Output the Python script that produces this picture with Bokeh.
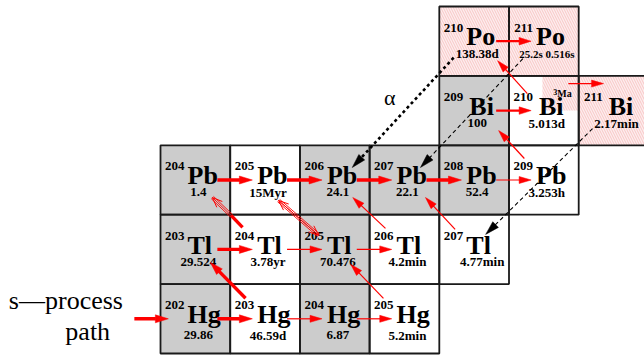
import math
from bokeh.plotting import figure
from bokeh.models import Range1d
from bokeh.core.properties import value
from bokeh.embed import file_html
from bokeh.resources import INLINE

# ---------------- data ----------------
symbols = {80: "Hg", 81: "Tl", 82: "Pb", 83: "Bi", 84: "Po"}
Z_vals = [80, 80, 80, 80, 81, 81, 81, 81, 81, 82, 82, 82, 82, 82, 82, 83, 83, 83, 84, 84]
A_vals = [202, 203, 204, 205, 203, 204, 205, 206, 207, 204, 205, 206, 207, 208, 209, 209, 210, 211, 210, 211]
labels = ["29.86", "46.59d", "6.87", "5.2min",
          "29.524", "3.78yr", "70.476", "4.2min", "4.77min",
          "1.4", "15Myr", "24.1", "22.1", "52.4", "3.253h",
          "100", "5.013d", "2.17min",
          "138.38d", "25.2s 0.516s"]
kinds = ["stable", "unstable", "stable", "unstable",
         "stable", "unstable", "stable", "unstable", "unstable",
         "stable", "unstable", "stable", "stable", "stable", "unstable",
         "stable", "unstable", "alpha",
         "alpha", "alpha"]
isomer_Z, isomer_A, isomer_label = 83, 210, ("3", "Ma")

# neutron captures (Z, A, strength)
captures = [(80, 202, "thick"), (80, 203, "thin"), (80, 204, "thin"),
            (81, 203, "thick"), (81, 204, "thin"), (81, 205, "thin"),
            (82, 204, "thick"), (82, 205, "thick"), (82, 206, "thick"),
            (82, 207, "thick"), (82, 208, "thin"),
            (83, 209, "medium"), (84, 210, "medium")]
# beta decays (parent Z, A) -> (Z+1, A)
betas = [(80, 203, "thick"), (81, 204, "split"), (80, 205, "thin"), (81, 206, "thin"),
         (81, 207, "thin"), (82, 209, "thin"), (83, 210, "thin")]
# alpha decays (parent Z, A) -> (Z-2, A-4)
alphas = [(84, 210, "strong"), (84, 211, "weak"), (83, 211, "weak")]

# ---------------- layout ----------------
W, H = 644, 356
X0, X1 = 119.2044, 128.444
Y0, Y1 = 79.4568, 84.5865
KX = W / (X1 - X0)
KY = H / (Y1 - Y0)
RED = "#ff0000"
FONT = value("Liberation Serif")
BASE = 0.37  # baseline correction in em

p = figure(width=W, height=H, x_range=Range1d(X0, X1), y_range=Range1d(Y0, Y1),
           output_backend="svg", toolbar_location=None, min_border=0)
p.axis.visible = False
p.grid.visible = False
p.outline_line_color = None
p.background_fill_color = "white"


def pos(Z, A, dx=0.0, dy=0.0):
    N = A - Z
    return N + dx / KX, Z - dy / KY


def txt(xs, ys, texts, fs, bold=True, align="left"):
    p.text(x=xs, y=[y + BASE * fs / KY for y in ys], text=texts, text_font=FONT,
           text_font_style="bold" if bold else "normal", text_font_size=f"{fs}px",
           text_align=align, text_baseline="alphabetic", text_color="black")


Ns = [a - z for a, z in zip(A_vals, Z_vals)]

# cell fills
for kind, fill in (("stable", "#cccccc"), ("unstable", "white")):
    idx = [i for i, k in enumerate(kinds) if k == kind]
    p.quad(left=[Ns[i] - 0.5 for i in idx], right=[Ns[i] + 0.5 for i in idx],
           bottom=[Z_vals[i] - 0.5 for i in idx], top=[Z_vals[i] + 0.5 for i in idx],
           fill_color=fill, line_color=None)
idx = [i for i, k in enumerate(kinds) if k == "alpha"]
hatch = dict(fill_color="#fdeeee", line_color=None, hatch_pattern="\\",
             hatch_color="#f07070", hatch_alpha=0.45, hatch_scale=5, hatch_weight=0.7)
p.quad(left=[Ns[i] - 0.5 for i in idx], right=[Ns[i] + 0.5 for i in idx],
       bottom=[Z_vals[i] - 0.5 for i in idx], top=[Z_vals[i] + 0.5 for i in idx], **hatch)
iN = isomer_A - isomer_Z
p.quad(left=[iN - 0.02], right=[iN + 0.5], bottom=[isomer_Z], top=[isomer_Z + 0.5], **hatch)

# cell borders
p.quad(left=[n - 0.5 for n in Ns], right=[n + 0.5 for n in Ns],
       bottom=[z - 0.5 for z in Z_vals], top=[z + 0.5 for z in Z_vals],
       fill_color=None, line_color="#1a1a1a", line_width=1.8)

# texts
txt([n - 0.5 + 24 / KX for n in Ns], [z + 0.5 - 26 / KY for z in Z_vals],
    [str(a) for a in A_vals], 13, align="right")
txt([n - 0.5 + (30 if z == 83 else 27) / KX for n, z in zip(Ns, Z_vals)],
    [z + 0.5 - 40 / KY for z in Z_vals], [symbols[z] for z in Z_vals], 26)
for small in (False, True):
    ii = [i for i in range(len(labels)) if (len(labels[i]) > 8) == small]
    txt([Ns[i] + (8 if labels[i] == "4.77min" else 3) / KX for i in ii],
        [Z_vals[i] + 0.5 - (56 if Z_vals[i] == 80 else 52) / KY for i in ii],
        [labels[i] for i in ii], 11 if small else 13, align="center")

# isomer label
x3, y3 = pos(isomer_Z, isomer_A, 9.5, -16)
txt([x3], [y3], [isomer_label[0]], 8)
xm, ym = pos(isomer_Z, isomer_A, 13.5, -13)
txt([xm], [ym], [isomer_label[1]], 10)

# s-process label and alpha label
xs, ys = pos(80, 202, -186.5, -8.5)
txt([xs], [ys], ["s\u2014process"], 26, bold=False)
xs, ys = pos(80, 202, -130, 22.5)
txt([xs], [ys], ["path"], 26, bold=False)
xa, ya = pos(84, 210, -84.5, 64.5)
txt([xa], [ya], ["\u03b1"], 22, bold=False, align="center")


# ---------------- arrows ----------------
def geom(a, b, L):
    ax, ay = a[0] * KX, a[1] * KY
    bx, by = b[0] * KX, b[1] * KY
    d = math.hypot(bx - ax, by - ay)
    ux, uy = (bx - ax) / d, (by - ay) / d
    return ax, ay, bx, by, ux, uy, bx - L * ux, by - L * uy


def arrow(a, b, color=RED, lw=1.3, L=12, Wd=7, dash="solid", head="filled", offset=0.0):
    ax, ay, bx, by, ux, uy, cx, cy = geom(a, b, L)
    nx, ny = -uy, ux
    ox, oy = offset * nx, offset * ny
    end_x, end_y = (cx + 0.5 * ux, cy + 0.5 * uy) if head == "filled" else (bx, by)
    p.segment(x0=[(ax + ox) / KX], y0=[(ay + oy) / KY], x1=[(end_x + ox) / KX],
              y1=[(end_y + oy) / KY], line_color=color, line_width=lw, line_dash=dash)
    if head == "filled":
        p.patch(x=[bx / KX, (cx + Wd / 2 * nx) / KX, (cx - Wd / 2 * nx) / KX],
                y=[by / KY, (cy + Wd / 2 * ny) / KY, (cy - Wd / 2 * ny) / KY],
                fill_color=color, line_color=color, line_width=0.5)
    elif head == "open":
        for s in (1, -1):
            p.segment(x0=[bx / KX], y0=[by / KY], x1=[(cx + s * Wd / 2 * nx) / KX],
                      y1=[(cy + s * Wd / 2 * ny) / KY], line_color=color, line_width=1.0)


def open_double(a, b, both=True):
    arrow(a, b, lw=0.9, head="none", offset=1.6)
    arrow(a, b, lw=0.9, head="none", offset=-1.6)
    arrow(a, b, lw=0.9, L=10, Wd=8, head="open")
    if both:
        arrow(b, a, lw=0.9, L=10, Wd=8, head="open")


styles = {"thick": dict(lw=3.4, L=13, Wd=8), "medium": dict(lw=2.2, L=12, Wd=7.5),
          "thin": dict(lw=1.2, L=12, Wd=7)}

# entry arrow
arrow(pos(80, 202, -61, 0), pos(80, 202, -27, 0), **styles["thick"])
for z, a, s in captures:
    arrow(pos(z, a, 22, 0), pos(z, a + 1, 57 - 69.7, 0), **styles[s])
# isomer capture
arrow(pos(isomer_Z, isomer_A, 24.5, -27), pos(isomer_Z, isomer_A + 1, -10, -27), **styles["thin"])

beta_offsets = {(80, 203): ((-19.5, -20.5), (15, 13)),
                (81, 204): ((-22.5, -22), (17, 17.5)),
                (80, 205): ((-21, -20.5), (16, 15)),
                (81, 206): ((-19, -21), (18, 17.5)),
                (81, 207): ((-19, -20), (21, 17.5)),
                (82, 209): ((-19.5, -21.5), (24.5, 20)),
                (83, 210): ((-16.5, -17), (23.5, 19.5))}
for z, a, s in betas:
    so, eo = beta_offsets[(z, a)]
    start = pos(z, a, *so)
    end = pos(z + 1, a, *eo)
    if s == "split":
        corner = pos(z, a, -34, -34)
        arrow(start, corner, lw=3.4, head="none")
        open_double(corner, end, both=False)
    else:
        arrow(start, end, **styles[s])

# 205Pb <-> 205Tl
open_double(pos(82, 205, 13.5, 20.5), pos(81, 205, -16, -14))

alpha_offsets = {(84, 210): ((-20.5, 16.5), (17.5, -12.5)),
                 (84, 211): ((-21, 17.5), (16, -12.5)),
                 (83, 211): ((-21, 18), (11.5, -15))}
for z, a, s in alphas:
    so, eo = alpha_offsets[(z, a)]
    if s == "strong":
        arrow(pos(z, a, *so), pos(z - 2, a - 4, *eo), color="black", lw=2.6, L=14, Wd=8,
              dash="3 3")
    else:
        arrow(pos(z, a, *so), pos(z - 2, a - 4, *eo), color="black", lw=1.1, L=14, Wd=8,
              dash="4 3")

open("out.html", "w").write(file_html(p, INLINE))
